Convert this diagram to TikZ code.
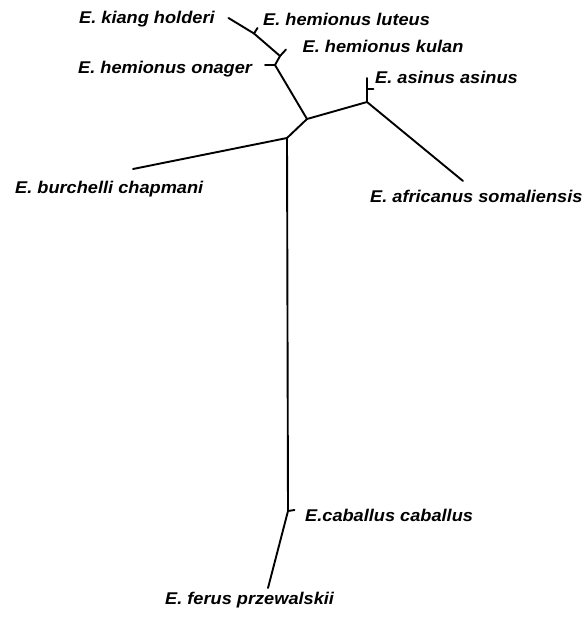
\documentclass[tikz,border=0pt]{standalone}
\usepackage{fontspec}
\newfontfamily\labfont[FakeStretch=1.07]{Liberation Sans}
\begin{document}
\begin{tikzpicture}[x=1pt,y=-1pt,
  branch/.style={line width=1.9pt,line cap=round,line join=round},
  taxon/.style={anchor=base west,inner sep=0pt,
    font=\labfont\bfseries\itshape\fontsize{17}{20}\selectfont}]
\useasboundingbox (0,0) rectangle (587,619);

% tree vertices
\coordinate (kiang) at (228.5,18);
\coordinate (nlut) at (254,33.5);
\coordinate (tlut) at (257.5,28);
\coordinate (nkul) at (280,56);
\coordinate (tkul) at (286,49.5);
\coordinate (nona) at (275,65);
\coordinate (tona) at (265,65);
\coordinate (nA) at (307,119);
\coordinate (nB) at (367,102);
\coordinate (asitop) at (367,78);
\coordinate (nasi) at (367,89);
\coordinate (tasi) at (373.5,89);
\coordinate (afr) at (463,181);
\coordinate (nC) at (287,138);
\coordinate (bur) at (133,169);
\coordinate (nD) at (288,511);
\coordinate (tcab) at (294.5,510);
\coordinate (fer) at (268,588);

% branches
\draw[branch] (kiang) -- (nlut) -- (nkul) -- (nona) -- (nA);
\draw[branch] (nlut) -- (tlut);
\draw[branch] (nkul) -- (tkul);
\draw[branch] (nona) -- (tona);
\draw[branch] (nA) -- (nB) -- (asitop);
\draw[branch] (nasi) -- (tasi);
\draw[branch] (nB) -- (afr);
\draw[branch] (nA) -- (nC) -- (bur);
\draw[branch] (nC) -- (nD) -- (fer);
\draw[branch] (nD) -- (tcab);

% taxon labels
\node[taxon] (Lkiang) at (79,23) {E. kiang holderi};
\node[taxon] (Llut) at (263,25) {E. hemionus luteus};
\node[taxon] (Lkul) at (302.5,52) {E. hemionus kulan};
\node[taxon] (Lona) at (78,73) {E. hemionus onager};
\node[taxon] (Lasi) at (375,83) {E. asinus asinus};
\node[taxon] (Lbur) at (15,193) {E. burchelli chapmani};
\node[taxon] (Lafr) at (370,202.5) {E. africanus somaliensis};
\node[taxon] (Lcab) at (305,521.5) {E.caballus caballus};
\node[taxon] (Lfer) at (165,604) {E. ferus przewalskii};
\end{tikzpicture}
\end{document}
